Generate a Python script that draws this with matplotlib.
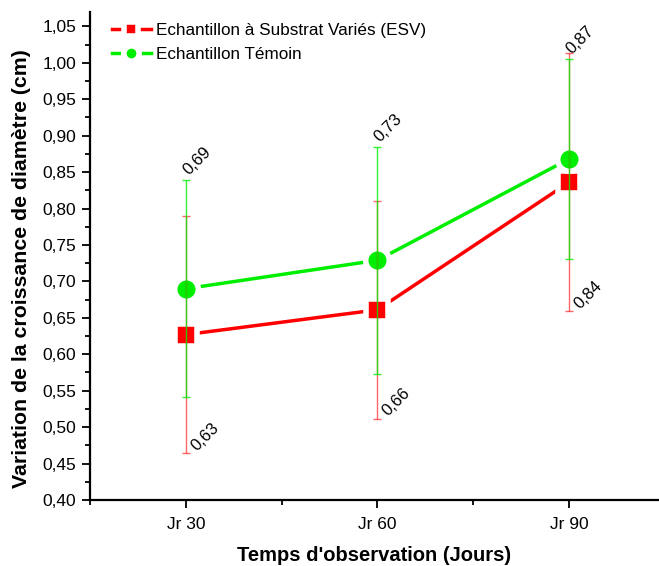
import numpy as np
import matplotlib
matplotlib.use("Agg")
import matplotlib.pyplot as plt
from matplotlib.ticker import MultipleLocator, FuncFormatter

plt.rcParams['font.family'] = ['Liberation Sans', 'DejaVu Sans']

jours = ["Jr 30", "Jr 60", "Jr 90"]

# Echantillon à Substrat Variés (ESV)
esv_moy = [0.627, 0.661, 0.836]
esv_err = [0.163, 0.150, 0.177]

# Echantillon Témoin
tem_moy = [0.690, 0.729, 0.868]
tem_err = [0.149, 0.156, 0.137]

rouge = '#ff0000'
vert = '#00ee00'

fig = plt.figure(figsize=(6.59, 5.66), dpi=100)
ax = fig.add_axes([0.1366, 0.1166, 0.8634, 0.8625])

x = np.arange(1, len(jours) + 1)

# courbes (bord blanc autour des marqueurs pour laisser un espace)
ax.plot(x, esv_moy, '-s', color=rouge, lw=2.5, ms=15.5, mec='white', mew=4,
        label='Echantillon à Substrat Variés (ESV)', zorder=3)
ax.plot(x, tem_moy, '-o', color=vert, lw=2.5, ms=17, mec='white', mew=4,
        label='Echantillon Témoin', zorder=3)

# barres d'erreur par dessus
ax.errorbar(x, esv_moy, yerr=esv_err, fmt='none', ecolor=rouge, elinewidth=1,
            capsize=3, capthick=1, alpha=0.6, zorder=4)
ax.errorbar(x, tem_moy, yerr=tem_err, fmt='none', ecolor=vert, elinewidth=1,
            capsize=3, capthick=1, alpha=0.8, zorder=5)

# étiquettes des valeurs
for xi, m, e in zip(x, tem_moy, tem_err):
    ax.annotate(f"{m:.2f}".replace('.', ','), (xi, m + e), xytext=(5, 2),
                textcoords='offset pixels', rotation=45, rotation_mode='anchor',
                ha='left', va='bottom', fontsize=12)
for xi, m, e in zip(x, esv_moy, esv_err):
    ax.annotate(f"{m:.2f}".replace('.', ','), (xi, m - e), xytext=(13, 0),
                textcoords='offset pixels', rotation=45, rotation_mode='anchor',
                ha='left', va='bottom', fontsize=12)

ax.set_xlim(0.5, 3.47)
ax.set_ylim(0.40, 1.07)
ax.set_xticks(x)
ax.set_xticklabels(jours)
ax.xaxis.set_minor_locator(MultipleLocator(0.5))
ax.yaxis.set_major_locator(MultipleLocator(0.05))
ax.yaxis.set_minor_locator(MultipleLocator(0.025))
ax.yaxis.set_major_formatter(FuncFormatter(lambda v, p: f"{v:.2f}".replace('.', ',')))

for s in ['top', 'right']:
    ax.spines[s].set_visible(False)
for s in ['left', 'bottom']:
    ax.spines[s].set_linewidth(1.6)

ax.tick_params(axis='both', which='major', direction='out', length=6, width=1.3,
               labelsize=12.5)
ax.tick_params(axis='both', which='minor', direction='out', length=3.5, width=1.3)
ax.tick_params(axis='x', pad=6)
ax.tick_params(axis='y', pad=4)

ax.set_xlabel("Temps d'observation (Jours)", fontsize=14.5, fontweight='bold', labelpad=10)
ax.set_ylabel("Variation de la croissance de diamètre (cm)", fontsize=15.3,
              fontweight='bold')
ax.yaxis.set_label_coords(-0.103, 0.473)

ax.legend(loc='upper left', bbox_to_anchor=(0.02, 0.998), frameon=False, fontsize=12.3,
          handlelength=2.3, borderaxespad=0.2, labelspacing=0.55, handletextpad=0.3,
          markerscale=0.65)

fig.savefig('out.png', dpi=100)
